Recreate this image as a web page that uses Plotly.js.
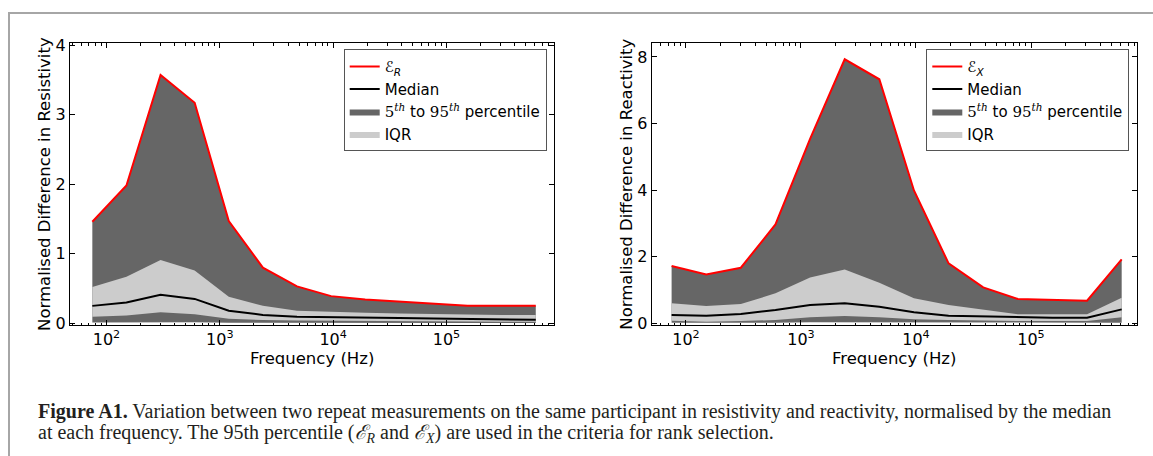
<!DOCTYPE html>
<html>
<head>
<meta charset="utf-8">
<script src="https://cdn.plot.ly/plotly-3.0.1.min.js"></script>
<style>html,body{margin:0;padding:0;background:#fff;}#chart{width:1153px;height:456px;}</style>
</head>
<body>
<div id="chart"></div>
<script>
// Frequencies (Hz)
const freqs = [75,150,300,600,1200,2400,4800,9600,19200,38400,76800,153600,307200,614400];

// Resistivity: percentiles of normalised difference
const resP95 = [1.46,1.98,3.57,3.17,1.47,0.80,0.53,0.39,0.34,0.31,0.28,0.25,0.25,0.25];
const resP75 = [0.52,0.67,0.91,0.76,0.38,0.25,0.18,0.16,0.15,0.14,0.13,0.12,0.12,0.12];
const resMed = [0.25,0.30,0.41,0.35,0.18,0.12,0.095,0.086,0.08,0.075,0.07,0.06,0.055,0.05];
const resP25 = [0.095,0.11,0.16,0.13,0.066,0.047,0.04,0.035,0.033,0.03,0.028,0.025,0.022,0.02];
const resP5  = [0.01,0.012,0.02,0.015,0.008,0.006,0.005,0.005,0.004,0.004,0.004,0.003,0.003,0.003];

// Reactivity: percentiles of normalised difference
const reaP95 = [1.72,1.47,1.67,2.97,5.54,7.93,7.33,3.99,1.80,1.08,0.73,0.70,0.68,1.92];
const reaP75 = [0.60,0.52,0.58,0.90,1.38,1.62,1.22,0.75,0.55,0.40,0.27,0.27,0.27,0.77];
const reaMed = [0.25,0.23,0.28,0.40,0.55,0.60,0.50,0.33,0.23,0.21,0.17,0.17,0.17,0.42];
const reaP25 = [0.08,0.05,0.07,0.10,0.18,0.22,0.18,0.12,0.10,0.08,0.07,0.07,0.07,0.18];
const reaP5  = [0.02,0.015,0.02,0.02,0.03,0.03,0.03,0.02,0.02,0.015,0.015,0.015,0.015,0.02];

// Tick labels
const xTickVals = [100,1000,10000,100000];
const xTickText = ["10<sup>2</sup>","10<sup>3</sup>","10<sup>4</sup>","10<sup>5</sup>"];
const resTicks = [0,1,2,3,4];
const reaTicks = [0,2,4,6,8];

const W = 1153, H = 456;
const DARK = '#666666', LIGHT = '#cccccc';
const FONT = 'DejaVu Sans, sans-serif';
const pctLabel = "<span style=\"font-family:'DejaVu Serif'\">5<sup><i>th</i></sup></span> to <span style=\"font-family:'DejaVu Serif'\">95<sup><i>th</i></sup></span> percentile";

function panel(xa, ya, leg, p5, p25, med, p75, p95, sym) {
  return [
    {x: freqs, y: p5, xaxis: xa, yaxis: ya, mode: 'lines', line: {width: 0, color: DARK}, showlegend: false, hoverinfo: 'skip'},
    {x: freqs, y: p95, xaxis: xa, yaxis: ya, mode: 'lines', line: {width: 0, color: DARK}, fill: 'tonexty', fillcolor: DARK,
      name: pctLabel, legend: leg, legendrank: 3},
    {x: freqs, y: p25, xaxis: xa, yaxis: ya, mode: 'lines', line: {width: 0, color: LIGHT}, showlegend: false, hoverinfo: 'skip'},
    {x: freqs, y: p75, xaxis: xa, yaxis: ya, mode: 'lines', line: {width: 0, color: LIGHT}, fill: 'tonexty', fillcolor: LIGHT,
      name: 'IQR', legend: leg, legendrank: 4},
    {x: freqs, y: med, xaxis: xa, yaxis: ya, mode: 'lines', line: {width: 2, color: '#000000'},
      name: 'Median', legend: leg, legendrank: 2},
    {x: freqs, y: p95, xaxis: xa, yaxis: ya, mode: 'lines', line: {width: 2, color: '#ff0000'},
      name: '<i>ℰ<sub>' + sym + '</sub></i>', legend: leg, legendrank: 1}
  ];
}

const data = [].concat(
  panel('x', 'y', 'legend', resP5, resP25, resMed, resP75, resP95, 'R'),
  panel('x2', 'y2', 'legend2', reaP5, reaP25, reaMed, reaP75, reaP95, 'X')
);

function xax(domain, range, anchor) {
  return {
    type: 'log', domain: domain, range: range, anchor: anchor,
    showline: true, linecolor: '#000', linewidth: 1, mirror: 'ticks',
    ticks: 'inside', ticklen: 5, tickwidth: 1, tickcolor: '#000',
    tickmode: 'array', tickvals: xTickVals, ticktext: xTickText,
    tickfont: {family: FONT, size: 16, color: '#000'},
    minor: {ticks: 'inside', ticklen: 2.5, tickwidth: 1, tickcolor: '#000', dtick: 'D1', showgrid: false},
    showgrid: false, zeroline: false,
    title: {text: 'Frequency (Hz)', font: {family: FONT, size: 16.5, color: '#000'}, standoff: 3}
  };
}
function yax(domain, range, anchor, ticks, title) {
  return {
    domain: domain, range: range, anchor: anchor,
    showline: true, linecolor: '#000', linewidth: 1, mirror: 'ticks',
    ticks: 'inside', ticklen: 5, tickwidth: 1, tickcolor: '#000',
    tickmode: 'array', tickvals: ticks,
    tickfont: {family: FONT, size: 16, color: '#000'},
    showgrid: false, zeroline: false,
    title: {text: title, font: {family: FONT, size: 16.5, color: '#000'}, standoff: 0}
  };
}

const yDom = [1 - 325 / H, 1 - 43.3 / H];
const legendStyle = (xr) => ({
  x: xr / W, xanchor: 'right', y: 1 - 49.3 / H, yanchor: 'top',
  traceorder: 'normal',
  bgcolor: '#ffffff', bordercolor: '#555555', borderwidth: 1,
  font: {family: FONT, size: 15, color: '#000'}
});

const capFont = {family: 'Liberation Serif, serif', size: 20, color: '#231f20'};

const layout = {
  width: W, height: H,
  margin: {l: 0, r: 0, t: 0, b: 0},
  paper_bgcolor: '#ffffff', plot_bgcolor: '#ffffff',
  showlegend: true,
  xaxis: xax([70 / W, 554.3 / W], [1.678, 5.952], 'y'),
  yaxis: yax(yDom, [-0.025, 4.025], 'x', resTicks, 'Normalised Difference in Resistivity'),
  xaxis2: xax([651.7 / W, 1136.7 / W], [1.702, 5.919], 'y2'),
  yaxis2: yax(yDom, [-0.05, 8.41], 'x2', reaTicks, 'Normalised Difference in Reactivity'),
  legend: legendStyle(546.7),
  legend2: legendStyle(1129.3),
  shapes: [{
    type: 'rect', xref: 'paper', yref: 'paper',
    x0: 9 / W, x1: 1.05, y0: -0.1, y1: 1 - 13 / H,
    line: {color: '#a6a6a6', width: 2}, fillcolor: 'rgba(0,0,0,0)'
  }],
  annotations: [{
    xref: 'paper', yref: 'paper', x: 36 / W, y: 1 - 411 / H, xanchor: 'left', yanchor: 'middle',
    align: 'left', showarrow: false, font: capFont,
    text: '<b>Figure A1.</b> Variation between two repeat measurements on the same participant in resistivity and reactivity, normalised by the median'
  }, {
    xref: 'paper', yref: 'paper', x: 36 / W, y: 1 - 433 / H, xanchor: 'left', yanchor: 'middle',
    align: 'left', showarrow: false, font: capFont,
    text: 'at each frequency. The 95th percentile (<i>ℰ<sub>R</sub></i> and <i>ℰ<sub>X</sub></i>) are used in the criteria for rank selection.'
  }]
};

Plotly.newPlot('chart', data, layout, {staticPlot: true, displayModeBar: false});
</script>
</body>
</html>
